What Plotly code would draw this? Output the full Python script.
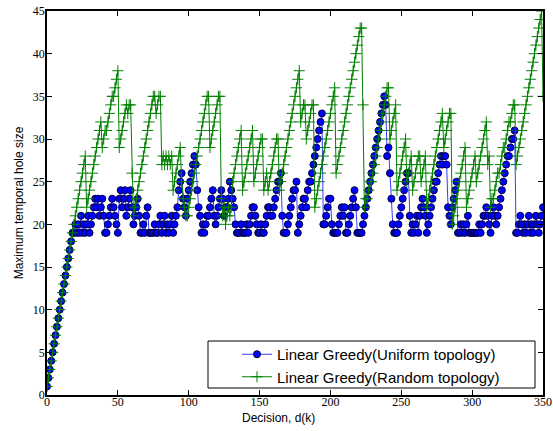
import plotly.graph_objects as go

decisions = list(range(0, 351))

uniform_hole = [
    1, 2, 3, 4, 5, 6, 7, 8, 9, 10,
    11, 12, 13, 14, 15, 16, 17, 18, 19, 19,
    20, 19, 20, 19, 21, 19, 20, 19, 20, 21,
    19, 20, 21, 22, 23, 22, 23, 21, 22, 23,
    21, 19, 19, 20, 21, 22, 23, 22, 21, 20,
    19, 23, 24, 22, 23, 24, 21, 22, 23, 24,
    22, 20, 21, 22, 23, 21, 19, 19, 20, 19,
    21, 22, 19, 19, 19, 19, 20, 19, 19, 20,
    21, 19, 20, 21, 19, 20, 19, 20, 21, 19,
    20, 21, 22, 24, 25, 26, 23, 22, 21, 23,
    24, 25, 26, 27, 28, 27, 24, 22, 21, 19,
    20, 19, 20, 21, 21, 22, 23, 24, 21, 20,
    21, 22, 23, 24, 23, 21, 22, 22, 23, 25,
    24, 23, 22, 20, 19, 19, 19, 20, 19, 19,
    19, 20, 19, 20, 21, 22, 22, 21, 20, 19,
    19, 20, 19, 19, 20, 21, 22, 22, 21, 21,
    22, 23, 24, 25, 25, 26, 21, 19, 19, 19,
    20, 21, 22, 23, 24, 24, 25, 19, 20, 21,
    22, 23, 23, 22, 24, 25, 25, 26, 27, 28,
    29, 30, 31, 32, 33, 20, 20, 21, 22, 23,
    23, 20, 19, 19, 19, 19, 20, 21, 22, 21,
    22, 19, 19, 20, 21, 22, 23, 24, 22, 19,
    19, 19, 19, 20, 21, 22, 23, 24, 25, 26,
    27, 28, 29, 30, 31, 32, 33, 34, 35, 34,
    28, 29, 26, 23, 20, 19, 19, 19, 20, 21,
    22, 23, 24, 25, 26, 26, 21, 19, 20, 19,
    20, 21, 19, 21, 22, 23, 22, 21, 19, 20,
    21, 22, 23, 24, 25, 25, 26, 27, 28, 27,
    28, 28, 27, 22, 21, 20, 22, 23, 24, 25,
    19, 19, 20, 19, 20, 19, 20, 21, 19, 19,
    19, 19, 19, 19, 19, 20, 19, 20, 21, 21,
    22, 21, 20, 19, 21, 22, 21, 20, 21, 22,
    23, 24, 25, 26, 27, 28, 28, 29, 30, 30,
    31, 19, 19, 20, 21, 20, 19, 20, 19, 20,
    21, 19, 20, 19, 20, 21, 20, 19, 20, 21,
    22,
]

random_hole = [
    1, 2, 3, 4, 5, 6, 7, 8, 9, 10,
    11, 12, 13, 14, 15, 16, 17, 18, 19, 20,
    21, 22, 23, 24, 25, 26, 27, 28, 22, 23,
    24, 25, 26, 27, 28, 29, 30, 31, 32, 29,
    30, 31, 31, 32, 33, 34, 35, 35, 36, 37,
    38, 29, 30, 31, 32, 33, 34, 33, 34, 34,
    26, 21, 22, 23, 24, 25, 26, 27, 28, 29,
    30, 31, 32, 33, 34, 35, 35, 33, 34, 35,
    35, 27, 28, 27, 28, 27, 28, 27, 28, 24,
    25, 26, 27, 28, 29, 25, 23, 22, 21, 21,
    22, 23, 24, 25, 26, 27, 28, 29, 30, 31,
    32, 33, 34, 35, 35, 29, 30, 31, 32, 33,
    34, 35, 35, 23, 21, 22, 20, 21, 22, 21,
    22, 25, 26, 27, 28, 29, 30, 31, 24, 25,
    26, 27, 28, 29, 30, 31, 25, 26, 27, 28,
    29, 30, 30, 24, 25, 26, 24, 25, 26, 27,
    28, 29, 30, 30, 24, 25, 26, 27, 28, 29,
    30, 31, 32, 33, 34, 35, 36, 37, 38, 32,
    33, 34, 34, 30, 31, 32, 33, 34, 34, 22,
    23, 24, 25, 26, 27, 28, 29, 30, 31, 32,
    33, 34, 35, 36, 26, 27, 28, 29, 30, 31,
    32, 33, 34, 35, 36, 37, 38, 39, 40, 41,
    42, 43, 43, 34, 22, 23, 23, 24, 25, 25,
    26, 27, 28, 29, 30, 31, 32, 33, 34, 35,
    36, 36, 30, 31, 32, 33, 34, 24, 25, 26,
    27, 28, 29, 30, 25, 26, 27, 28, 24, 25,
    26, 27, 28, 28, 25, 26, 27, 28, 22, 23,
    24, 25, 26, 27, 28, 29, 30, 31, 32, 33,
    29, 30, 31, 32, 33, 33, 20, 21, 22, 23,
    24, 25, 26, 27, 28, 29, 22, 23, 24, 25,
    26, 27, 28, 25, 26, 27, 28, 29, 30, 31,
    32, 27, 28, 22, 23, 23, 24, 25, 26, 26,
    27, 28, 29, 29, 30, 31, 32, 32, 33, 34,
    34, 27, 28, 29, 30, 31, 32, 33, 34, 35,
    36, 37, 38, 39, 40, 41, 42, 43, 44, 45,
    35,
]

x_ticks = [0, 50, 100, 150, 200, 250, 300, 350]
y_ticks = [0, 5, 10, 15, 20, 25, 30, 35, 40, 45]

fig = go.Figure()
fig.add_trace(go.Scatter(
    x=decisions, y=uniform_hole, mode="lines+markers",
    name="Linear Greedy(Uniform topology)",
    line=dict(color="#3a3aff", width=1),
    marker=dict(symbol="circle", size=7, color="#0000ff",
                line=dict(color="#000040", width=1)),
))
fig.add_trace(go.Scatter(
    x=decisions, y=random_hole, mode="lines+markers",
    name="Linear Greedy(Random topology)",
    line=dict(color="#008000", width=1),
    marker=dict(symbol="cross-thin", size=8, color="#008000",
                line=dict(color="#008000", width=1)),
))

axis_common = dict(
    showline=True, linecolor="black", linewidth=1.5, mirror="allticks",
    ticks="inside", ticklen=5, tickwidth=1, tickcolor="black",
    showgrid=False, zeroline=False, automargin=False,
    tickfont=dict(family="Liberation Serif", size=12, color="black"),
)

fig.update_xaxes(range=[0, 350], tickvals=x_ticks, ticklabelstandoff=-5, **axis_common)
fig.update_yaxes(range=[0, 45], tickvals=y_ticks, ticklabelstandoff=-2,
                 title=dict(text="Maximum temporal hole size", standoff=7,
                            font=dict(family="Liberation Sans", size=12, color="black")),
                 **axis_common)

fig.add_annotation(text="Decision, d(k)", xref="paper", yref="paper",
                   x=(278 - 47) / 496, y=(395 - 418) / 384,
                   xanchor="center", yanchor="middle", showarrow=False,
                   font=dict(family="Liberation Sans", size=12, color="black"))

fig.add_shape(type="rect", xref="paper", yref="paper",
              x0=(208 - 47) / 496, x1=(535 - 47) / 496,
              y0=(395 - 388) / 384, y1=(395 - 341) / 384,
              line=dict(color="black", width=1), fillcolor="white", layer="below")

fig.update_layout(
    width=553, height=431,
    margin=dict(l=47, r=10, t=11, b=36),
    plot_bgcolor="white", paper_bgcolor="white",
    showlegend=True,
    legend=dict(x=(237 - 47) / 496, y=(395 - 338) / 384, xanchor="left", yanchor="top",
                bgcolor="rgba(0,0,0,0)", borderwidth=0,
                font=dict(family="Liberation Sans", size=15, color="black"),
                tracegroupgap=0),
)

fig.write_html("out.html", config={"displayModeBar": False},
               post_script="document.body.style.margin='0';document.body.style.padding='0';")
